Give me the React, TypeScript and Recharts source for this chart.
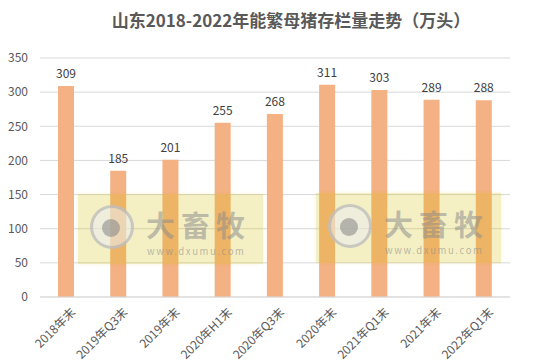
import React from 'react';
import { BarChart, Bar, XAxis, YAxis, CartesianGrid, LabelList } from 'recharts';

const periods = ['2018年末', '2019年Q3末', '2019年末', '2020年H1末', '2020年Q3末', '2020年末', '2021年Q1末', '2021年末', '2022年Q1末'];
const sowStock = [309, 185, 201, 255, 268, 311, 303, 289, 288];
const yTicks = [0, 50, 100, 150, 200, 250, 300, 350];

const data = periods.map((period, i) => ({ period, value: sowStock[i] }));

const font = '"Noto Sans CJK SC", "Noto Sans", sans-serif';

// dxumu watermark stamped over the plot
const Watermark: React.FC<{ left: number; top: number }> = ({ left, top }) => (
  <div
    style={{
      position: 'absolute',
      left,
      top,
      width: 185,
      height: 70,
      background: 'rgba(212,190,0,0.23)',
      boxShadow: '0 0 4px rgba(212,190,0,0.15)',
      pointerEvents: 'none',
    }}
  >
    <div
      style={{
        position: 'absolute',
        left: 12,
        top: 11,
        width: 44,
        height: 44,
        borderRadius: '50%',
        border: '3px solid rgba(170,170,170,0.55)',
        background: 'rgba(235,235,235,0.6)',
        boxSizing: 'border-box',
      }}
    >
      <div
        style={{
          position: 'absolute',
          left: 9,
          top: 11,
          width: 18,
          height: 18,
          borderRadius: '50%',
          background: 'rgba(140,140,140,0.6)',
        }}
      />
    </div>
    <div
      style={{
        position: 'absolute',
        left: 68,
        top: 16,
        fontFamily: font,
        fontWeight: 700,
        fontSize: 29,
        lineHeight: '29px',
        letterSpacing: 6,
        color: 'rgba(140,140,140,0.55)',
      }}
    >
      大畜牧
    </div>
    <div
      style={{
        position: 'absolute',
        left: 69,
        top: 52,
        fontFamily: font,
        fontSize: 9.5,
        lineHeight: '10px',
        letterSpacing: 1.6,
        color: 'rgba(140,140,140,0.6)',
      }}
    >
      www.dxumu.com
    </div>
  </div>
);

export default function App() {
  return (
    <div style={{ position: 'absolute', left: 0, top: 0, width: 555, height: 363, background: '#fff', fontFamily: font }}>
      <div
        style={{
          position: 'absolute',
          left: 0,
          width: 582,
          top: 8,
          textAlign: 'center',
          fontSize: 17,
          fontWeight: 700,
          color: '#595959',
          lineHeight: '24px',
        }}
      >
        山东2018-2022年能繁母猪存栏量走势（万头）
      </div>
      <BarChart width={555} height={363} data={data} margin={{ top: 58, right: 45, left: 0, bottom: 0 }}>
        <CartesianGrid vertical={false} stroke="#D9D9D9" />
        <XAxis
          dataKey="period"
          height={66}
          interval={0}
          tickLine={false}
          axisLine={{ stroke: '#D9D9D9' }}
          angle={-45}
          textAnchor="end"
          tick={{ fontSize: 12, fill: '#595959', fontFamily: font }}
          dy={2}
          dx={4}
        />
        <YAxis
          width={40}
          domain={[0, 350]}
          ticks={yTicks}
          tickLine={false}
          axisLine={false}
          tickMargin={6}
          tick={{ fontSize: 12, fill: '#595959', fontFamily: font }}
        />
        <Bar dataKey="value" fill="#F4B183" barSize={16} isAnimationActive={false}>
          <LabelList dataKey="value" position="top" offset={8} style={{ fontSize: 12, fill: '#404040', fontFamily: font }} />
        </Bar>
      </BarChart>
      <Watermark left={78} top={194} />
      <Watermark left={316} top={193} />
    </div>
  );
}
